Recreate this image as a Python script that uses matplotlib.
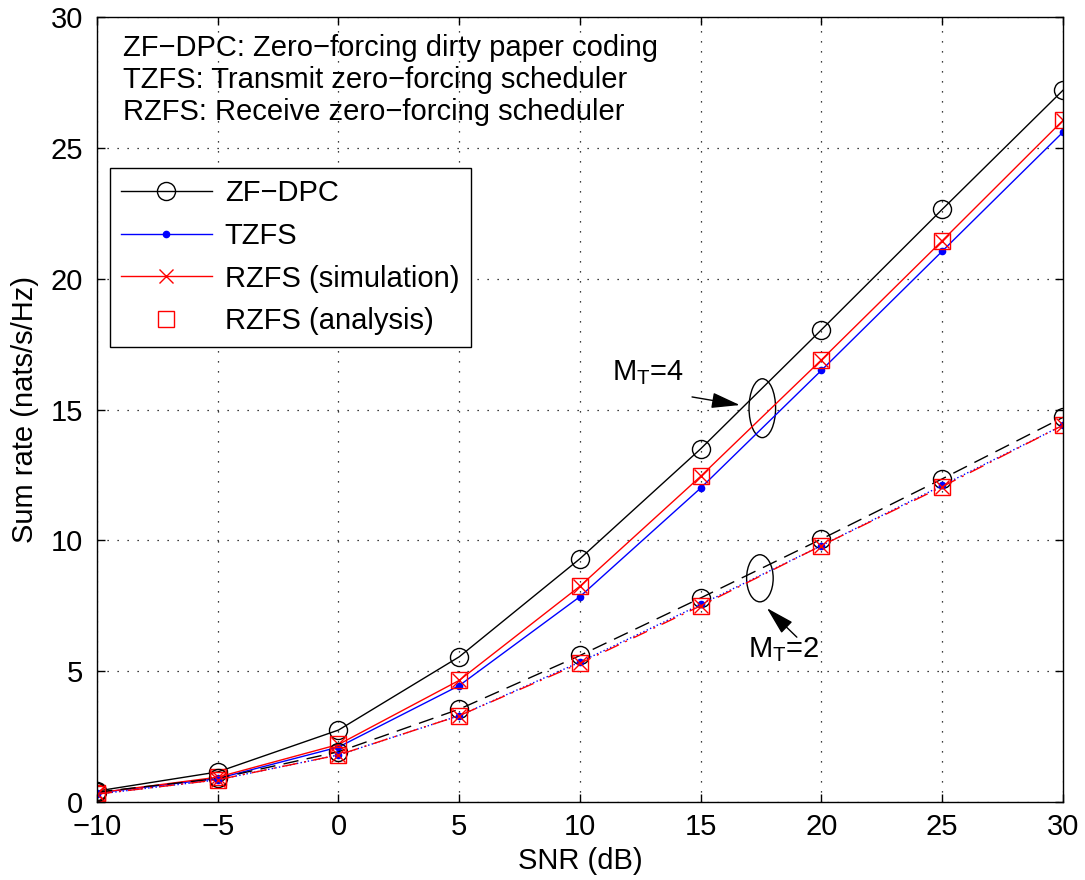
import numpy as np
import matplotlib
matplotlib.use("Agg")
import matplotlib.pyplot as plt
from matplotlib.patches import Ellipse

plt.rcParams['font.family'] = ['Liberation Sans', 'DejaVu Sans']

snr = [-10, -5, 0, 5, 10, 15, 20, 25, 30]

# M_T = 4
zfdpc_4 = [0.42, 1.15, 2.75, 5.55, 9.3, 13.5, 18.05, 22.65, 27.2]
tzfs_4 = [0.35, 0.9, 2.1, 4.45, 7.85, 12.0, 16.5, 21.05, 25.6]
rzfs_sim_4 = [0.35, 0.95, 2.2, 4.65, 8.25, 12.45, 16.9, 21.45, 26.05]
rzfs_ana_4 = [0.35, 0.95, 2.2, 4.65, 8.25, 12.45, 16.9, 21.45, 26.05]

# M_T = 2
zfdpc_2 = [0.38, 0.9, 1.92, 3.55, 5.6, 7.8, 10.05, 12.35, 14.7]
tzfs_2 = [0.3, 0.85, 1.8, 3.3, 5.35, 7.55, 9.8, 12.1, 14.4]
rzfs_sim_2 = [0.3, 0.85, 1.8, 3.3, 5.3, 7.5, 9.8, 12.05, 14.4]
rzfs_ana_2 = [0.3, 0.85, 1.8, 3.3, 5.3, 7.5, 9.8, 12.05, 14.4]

fig = plt.figure(figsize=(10.85, 8.8), dpi=100)
ax = fig.add_axes([0.0894, 0.0886, 0.8903, 0.8921])

fs = 21

ax.plot(snr, zfdpc_4, 'k-', marker='o', mfc='none', ms=13, lw=1.0, label='ZF\u2212DPC')
ax.plot(snr, tzfs_4, 'b-', marker='.', ms=9, lw=1.0, label='TZFS')
ax.plot(snr, rzfs_sim_4, 'r-', marker='x', ms=10, lw=1.0, label='RZFS (simulation)')
ax.plot(snr, rzfs_ana_4, 'rs', mfc='none', ms=11, label='RZFS (analysis)')

ax.plot(snr, zfdpc_2, 'k--', marker='o', mfc='none', ms=13, lw=1.0, dashes=(11, 6))
ax.plot(snr, tzfs_2, 'b:', marker='.', ms=9, lw=1.0)
ax.plot(snr, rzfs_sim_2, 'r-.', marker='x', ms=10, lw=1.0, dashes=(11, 5, 1.5, 5))
ax.plot(snr, rzfs_ana_2, 'rs', mfc='none', ms=11)

ax.set_xlim(-10, 30)
ax.set_ylim(0, 30)
ax.set_xticks(snr)
ax.set_yticks([0, 5, 10, 15, 20, 25, 30])
ax.set_xticklabels(['\u221210', '\u22125', '0', '5', '10', '15', '20', '25', '30'])
ax.tick_params(direction='in', top=True, right=True, labelsize=fs, length=6, width=1.0)
ax.tick_params(axis='x', pad=8)
ax.tick_params(axis='y', pad=10)
ax.grid(True, linestyle=(0, (1, 7)), color='k', lw=0.9)
for s in ax.spines.values():
    s.set_linewidth(1.0)

ax.set_xlabel('SNR (dB)', fontsize=fs, labelpad=4)
ax.set_ylabel('Sum rate (nats/s/Hz)', fontsize=fs, labelpad=8)

ax.text(0.027, 0.978, 'ZF\u2212DPC: Zero\u2212forcing dirty paper coding\n'
        'TZFS: Transmit zero\u2212forcing scheduler\n'
        'RZFS: Receive zero\u2212forcing scheduler',
        transform=ax.transAxes, fontsize=fs, va='top', ha='left', linespacing=1.17)

leg = ax.legend(loc='upper left', bbox_to_anchor=(0.013, 0.808), fontsize=fs,
                fancybox=False, edgecolor='k', framealpha=1, handlelength=3.1,
                borderpad=0.4, labelspacing=0.5, handletextpad=0.45,
                borderaxespad=0)
leg.get_frame().set_linewidth(1.0)

ax.add_patch(Ellipse((17.55, 15.05), 1.1, 2.25, fill=False, ec='k', lw=1.0))
ax.add_patch(Ellipse((17.45, 8.55), 1.1, 1.8, fill=False, ec='k', lw=1.0))

arrow = dict(arrowstyle='-|>,head_length=0.8,head_width=0.22', color='k', lw=1.0,
             mutation_scale=22, shrinkA=0, shrinkB=0)
ax.annotate('', xy=(16.62, 15.17), xytext=(14.64, 15.48), arrowprops=arrow)
ax.text(11.33, 16.13, r'M$_\mathregular{T}$=4', fontsize=fs)
ax.annotate('', xy=(17.74, 7.41), xytext=(18.98, 6.3), arrowprops=arrow)
ax.text(16.96, 5.54, r'M$_\mathregular{T}$=2', fontsize=fs)

fig.savefig('out.png', dpi=100)
